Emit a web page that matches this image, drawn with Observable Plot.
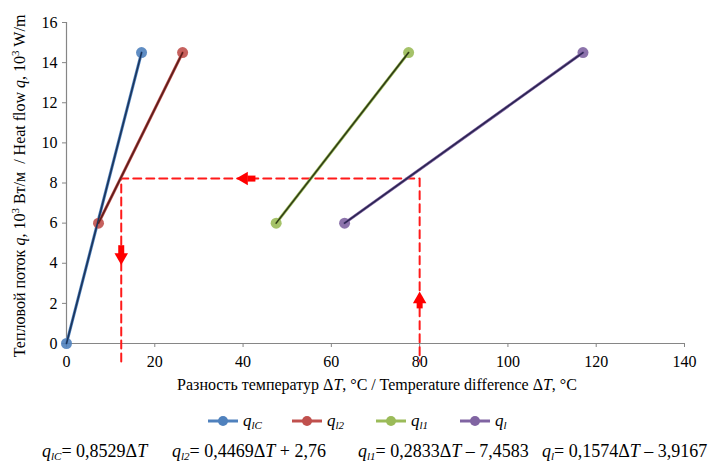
<!DOCTYPE html>
<html><head><meta charset="utf-8">
<script src="https://cdn.jsdelivr.net/npm/d3@7"></script>
<script src="https://cdn.jsdelivr.net/npm/@observablehq/plot@0.6"></script>
<style>
body{margin:0;background:#fff;}
#wrap{position:relative;width:726px;height:470px;font-family:"Liberation Serif","Times New Roman",serif;color:#000;overflow:hidden;}
#wrap svg.plot{position:absolute;left:0;top:0;}
#wrap svg.plot text{font-family:"Liberation Serif","Times New Roman",serif !important;}
.leg{position:absolute;top:411px;display:flex;align-items:center;font-size:17px;font-family:"Liberation Serif",serif;}
.leg i{font-style:italic;}
.leg sub, .eq sub{font-size:11px;font-style:italic;vertical-align:-3px;}
.eq{position:absolute;top:441px;font-size:18px;white-space:nowrap;font-family:"Liberation Serif",serif;}
.eq i{font-style:italic;}
</style></head><body><div id="wrap"></div>
<script>
// ---- data ----
const seriesKeys = ["lC", "l2", "l1", "l"];
const markerColors = ["#4f81bd", "#c0504d", "#9bbb59", "#8064a2"];
const lineColors = ["#1c355c", "#5c1f1c", "#2e3a16", "#2b2552"];
const dT_lC = [0, 17.0],   q_lC = [0, 14.5];
const dT_l2 = [7.25, 26.3], q_l2 = [6, 14.5];
const dT_l1 = [47.5, 77.5], q_l1 = [6, 14.5];
const dT_l  = [63.0, 117.0], q_l = [6, 14.5];
const xTicks = [0, 20, 40, 60, 80, 100, 120, 140];
const yTicks = [0, 2, 4, 6, 8, 10, 12, 14, 16];
// guide (red dashed) lines
const guideQ = 8.22, guideX1 = 12.4, guideX2 = 80, guideBottom = -0.9;
// arrow bodies and heads
const arrowBodies = [
  {x1: 41.0, x2: 42.8, y1: 8.22, y2: 8.22},
  {x1: 12.4, x2: 12.4, y1: 4.9, y2: 4.45},
  {x1: 80, x2: 80, y1: 1.75, y2: 2.05}
];
const arrowHeads = [
  {x: 40.2, y: 8.22, rot: -90},
  {x: 12.4, y: 4.3, rot: 180},
  {x: 80, y: 2.2, rot: 0}
];
const eqSlopes = ["0,8529", "0,4469", "0,2833", "0,1574"];
const eqIntercepts = ["", " + 2,76", " – 7,4583", " – 3,9167"];

const dTs = [dT_lC, dT_l2, dT_l1, dT_l];
const qs = [q_lC, q_l2, q_l1, q_l];
const seriesRows = seriesKeys.map((k, i) => dTs[i].map((x, j) => ({s: k, x, q: qs[i][j]})));
const guidePath = [
  {x: guideX1, q: guideBottom}, {x: guideX1, q: guideQ},
  {x: guideX2, q: guideQ}, {x: guideX2, q: guideBottom}
];
const serif = "'Liberation Serif', 'Times New Roman', serif";

const marks = [
  Plot.ruleY([0], {stroke: "#868686", strokeWidth: 1.2}),
  Plot.ruleX([0], {stroke: "#868686", strokeWidth: 1.2}),
  Plot.axisX({ticks: xTicks, tickSize: 4, tickPadding: 8, stroke: "#868686", label: null, fontSize: 16, fontFamily: serif}),
  Plot.axisY({ticks: yTicks, tickSize: 4, tickPadding: 5, stroke: "#868686", label: null, fontSize: 16, fontFamily: serif}),
  Plot.line(guidePath, {x: "x", y: "q", stroke: "#ff1a1a", strokeWidth: 2, strokeDasharray: "8,5"}),
  Plot.link(arrowBodies, {x1: "x1", x2: "x2", y1: "y1", y2: "y2", stroke: "#ff0000", strokeWidth: 6}),
  Plot.dot(arrowHeads, {x: "x", y: "y", symbol: "triangle", r: 5, fill: "#ff0000", rotate: "rot"})
];
seriesRows.forEach((rows, i) => {
  marks.push(Plot.line(rows, {x: "x", y: "q", stroke: markerColors[i], strokeWidth: 3}));
});
seriesRows.forEach((rows, i) => {
  marks.push(Plot.dot(rows, {x: "x", y: "q", fill: markerColors[i], fillOpacity: 0.9, r: 5.5}));
});
seriesRows.forEach((rows, i) => {
  marks.push(Plot.line(rows, {x: "x", y: "q", stroke: lineColors[i], strokeWidth: 1.6}));
});

const plot = Plot.plot({
  width: 726, height: 400,
  marginLeft: 66, marginRight: 42, marginTop: 22, marginBottom: 57,
  x: {domain: [0, 140]},
  y: {domain: [0, 16]},
  style: {fontFamily: serif, fontSize: "16px", color: "#000", background: "#fff"},
  marks
});
plot.classList.add("plot");
const wrap = document.getElementById("wrap");
wrap.appendChild(plot);

const svg = d3.select(plot);
// x axis label
const xl = svg.append("text").attr("x", 377).attr("y", 390).attr("text-anchor", "middle")
  .attr("font-size", 16).attr("fill", "#000");
xl.append("tspan").text("Разность температур Δ");
xl.append("tspan").attr("font-style", "italic").text("T");
xl.append("tspan").text(", °C / Temperature difference Δ");
xl.append("tspan").attr("font-style", "italic").text("T");
xl.append("tspan").text(", °C");
// y axis label
const yl = svg.append("text").attr("transform", "translate(25,186) rotate(-90)")
  .attr("text-anchor", "middle").attr("font-size", 16).attr("fill", "#000");
function ypart(t, opts = {}) {
  const s = yl.append("tspan").text(t);
  if (opts.it) s.attr("font-style", "italic");
  if (opts.sup) s.attr("font-size", 11).attr("dy", -6);
  if (opts.after) s.attr("dy", 6);
  return s;
}
ypart("Тепловой поток "); ypart("q", {it: true}); ypart(", 10");
ypart("3", {sup: true}); ypart(" Вт/м  / Heat flow ", {after: true});
ypart("q", {it: true}); ypart(", 10"); ypart("3", {sup: true}); ypart(" W/m", {after: true});

// legend
const legend = document.createElement("div");
legend.className = "leg";
legend.style.left = "208px";
seriesKeys.forEach((k, i) => {
  const item = document.createElement("div");
  item.style.cssText = "display:flex;align-items:center;width:84px;";
  item.innerHTML = `<svg width="30" height="12" style="margin-right:5px"><line x1="0" y1="6" x2="30" y2="6" stroke="${markerColors[i]}" stroke-width="3"/><circle cx="15" cy="6" r="5" fill="${markerColors[i]}"/></svg><span><i>q</i><sub>${k}</sub></span>`;
  legend.appendChild(item);
});
wrap.appendChild(legend);

// equations
const eqLefts = [42, 172, 358, 542];
seriesKeys.forEach((k, i) => {
  const e = document.createElement("div");
  e.className = "eq";
  e.style.left = eqLefts[i] + "px";
  e.innerHTML = `<i>q</i><sub>${k}</sub>= ${eqSlopes[i]}Δ<i>T</i>${eqIntercepts[i]}`;
  wrap.appendChild(e);
});
</script></body></html>
